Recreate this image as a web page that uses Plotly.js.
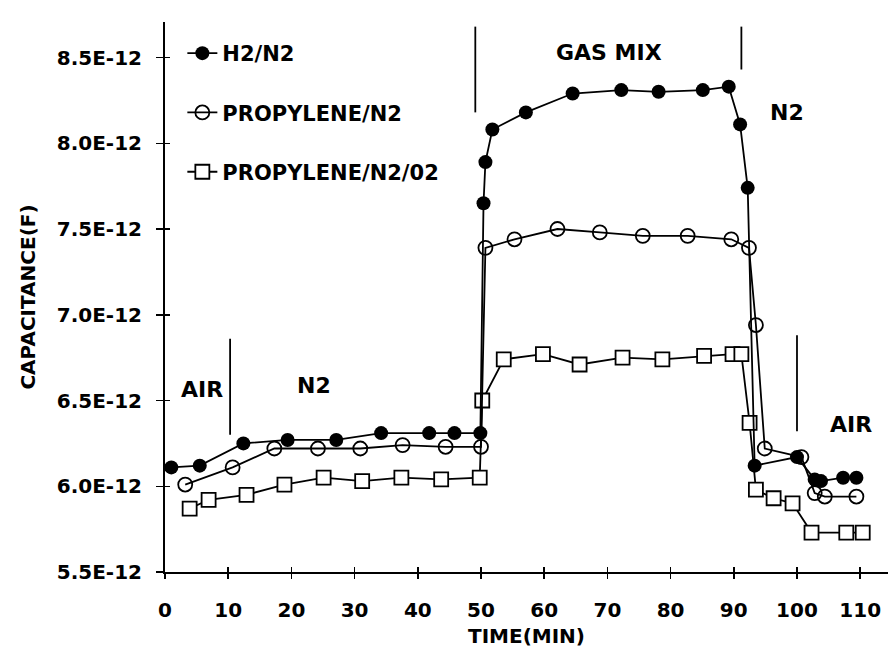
<!DOCTYPE html>
<html>
<head>
<meta charset="utf-8">
<script src="https://cdn.plot.ly/plotly-3.0.1.min.js"></script>
<style>
  html, body { margin: 0; padding: 0; background: #fff; }
  #chart { width: 888px; height: 652px; }
</style>
</head>
<body>
<div id="chart"></div>
<script>
// ---- Data (time in min, capacitance in F) ----
const h2Time = [1.0, 5.5, 12.4, 19.4, 27.1, 34.2, 41.8, 45.8, 49.9, 50.4, 50.7, 51.8, 57.1, 64.5, 72.2, 78.1, 85.1, 89.2, 91.0, 92.2, 93.3, 100.0, 102.8, 103.8, 107.3, 109.4];
const h2Cap  = [6.11e-12, 6.12e-12, 6.25e-12, 6.27e-12, 6.27e-12, 6.31e-12, 6.31e-12, 6.31e-12, 6.31e-12, 7.65e-12, 7.89e-12, 8.08e-12, 8.18e-12, 8.29e-12, 8.31e-12, 8.30e-12, 8.31e-12, 8.33e-12, 8.11e-12, 7.74e-12, 6.12e-12, 6.17e-12, 6.04e-12, 6.03e-12, 6.05e-12, 6.05e-12];

const propTime = [3.2, 10.7, 17.3, 24.2, 30.9, 37.6, 44.4, 50.0, 50.7, 55.3, 62.1, 68.8, 75.6, 82.7, 89.6, 92.4, 93.5, 94.9, 100.7, 102.8, 104.4, 109.4];
const propCap  = [6.01e-12, 6.11e-12, 6.22e-12, 6.22e-12, 6.22e-12, 6.24e-12, 6.23e-12, 6.23e-12, 7.39e-12, 7.44e-12, 7.50e-12, 7.48e-12, 7.46e-12, 7.46e-12, 7.44e-12, 7.39e-12, 6.94e-12, 6.22e-12, 6.17e-12, 5.96e-12, 5.94e-12, 5.94e-12];

const propO2Time = [3.9, 6.9, 12.9, 18.9, 25.1, 31.2, 37.4, 43.7, 49.8, 50.2, 53.6, 59.8, 65.6, 72.4, 78.7, 85.3, 89.8, 91.2, 92.5, 93.5, 96.3, 99.3, 102.3, 107.8, 110.4];
const propO2Cap  = [5.87e-12, 5.92e-12, 5.95e-12, 6.01e-12, 6.05e-12, 6.03e-12, 6.05e-12, 6.04e-12, 6.05e-12, 6.50e-12, 6.74e-12, 6.77e-12, 6.71e-12, 6.75e-12, 6.74e-12, 6.76e-12, 6.77e-12, 6.77e-12, 6.37e-12, 5.98e-12, 5.93e-12, 5.90e-12, 5.73e-12, 5.73e-12, 5.73e-12];

const seriesNames = ["H2/N2", "PROPYLENE/N2", "PROPYLENE/N2/02"];

// ---- Ticks ----
const timeTicks = [0, 10, 20, 30, 40, 50, 60, 70, 80, 90, 100, 110];
const capTicks = [5.5e-12, 6.0e-12, 6.5e-12, 7.0e-12, 7.5e-12, 8.0e-12, 8.5e-12];
const capTickText = ["5.5E-12", "6.0E-12", "6.5E-12", "7.0E-12", "7.5E-12", "8.0E-12", "8.5E-12"];

// ---- Phase labels and dividers ----
const phaseLabels = ["AIR", "N2", "GAS MIX", "N2", "AIR"];
const phaseLabelTime = [5.8, 23.5, 70.2, 98.4, 108.6];
const phaseLabelCap = [6.567e-12, 6.585e-12, 8.532e-12, 8.182e-12, 6.36e-12];
const dividerTime = [10.3, 49.1, 91.2, 100.0];
const dividerLow  = [6.30e-12, 8.18e-12, 8.43e-12, 6.32e-12];
const dividerHigh = [6.86e-12, 8.68e-12, 8.68e-12, 6.88e-12];

const FONT = "DejaVu Sans, Liberation Sans, Arial, sans-serif";

const traces = [
  {
    x: propO2Time, y: propO2Cap, name: seriesNames[2], type: "scatter", mode: "lines+markers",
    line: { color: "#000", width: 1.8 },
    marker: { symbol: "square", size: 14, color: "#fff", line: { color: "#000", width: 1.8 } },
    legendgroup: "c", legendrank: 3
  },
  {
    x: propTime, y: propCap, name: seriesNames[1], type: "scatter", mode: "lines+markers",
    line: { color: "#000", width: 1.8 },
    marker: { symbol: "circle-open", size: 14, color: "#000", line: { color: "#000", width: 1.8 } },
    legendgroup: "b", legendrank: 2
  },
  {
    x: h2Time, y: h2Cap, name: seriesNames[0], type: "scatter", mode: "lines+markers",
    line: { color: "#000", width: 1.8 },
    marker: { symbol: "circle", size: 14, color: "#000" },
    legendgroup: "a", legendrank: 1
  },
  {
    // helper so the overlay axes (inner half of the cross ticks) are drawn
    x: [timeTicks[0]], y: [capTicks[0]], xaxis: "x2", yaxis: "y2",
    mode: "none", type: "scatter", showlegend: false, hoverinfo: "skip"
  }
];

const shapes = dividerTime.map((t, i) => ({
  type: "line", xref: "x", yref: "y",
  x0: t, x1: t, y0: dividerLow[i], y1: dividerHigh[i],
  line: { color: "#000", width: 1.8 }
}));

const annotations = phaseLabels.map((s, i) => ({
  x: phaseLabelTime[i], y: phaseLabelCap[i], xref: "x", yref: "y",
  text: "<b>" + s + "</b>", showarrow: false,
  font: { family: FONT, size: 22, color: "#000" },
  xanchor: "center", yanchor: "middle"
}));

const xRange = [0, 114.4];
const yRange = [5.5e-12, 8.707e-12];

const layout = {
  width: 888, height: 652,
  margin: { l: 165, r: 0, t: 22, b: 80 },
  paper_bgcolor: "#fff", plot_bgcolor: "#fff",
  font: { family: FONT, color: "#000" },
  showlegend: true,
  legend: {
    x: 0.024, y: 0.98, xanchor: "left", yanchor: "top",
    font: { family: FONT, size: 21, color: "#000", weight: "bold" },
    bgcolor: "rgba(0,0,0,0)", borderwidth: 0,
    traceorder: "grouped", tracegroupgap: 29, itemwidth: 30
  },
  xaxis: {
    range: xRange, tickvals: timeTicks, ticktext: timeTicks.map(String),
    showgrid: false, zeroline: false, showline: true, linecolor: "#000", linewidth: 2,
    ticks: "outside", ticklen: 5, tickwidth: 1.5, tickcolor: "#000",
    ticklabelstandoff: 14,
    tickfont: { family: FONT, size: 20, color: "#000", weight: "bold" },
    title: { text: "<b>TIME(MIN)</b>", font: { family: FONT, size: 20, color: "#000" }, standoff: 8 }
  },
  yaxis: {
    range: yRange, tickvals: capTicks, ticktext: capTickText,
    showgrid: false, zeroline: false, showline: true, linecolor: "#000", linewidth: 2,
    ticks: "outside", ticklen: 7, tickwidth: 1.5, tickcolor: "#000",
    ticklabelstandoff: 10,
    tickfont: { family: FONT, size: 20, color: "#000", weight: "bold" },
    title: { text: "<b>CAPACITANCE(F)</b>", font: { family: FONT, size: 20, color: "#000" }, standoff: 16 }
  },
  xaxis2: {
    overlaying: "x", matches: "x", side: "bottom", anchor: "y2",
    tickvals: timeTicks, showticklabels: false, showgrid: false, zeroline: false, showline: false,
    ticks: "inside", ticklen: 5, tickwidth: 1.5, tickcolor: "#000"
  },
  yaxis2: {
    overlaying: "y", matches: "y", side: "left", anchor: "x2",
    tickvals: capTicks, showticklabels: false, showgrid: false, zeroline: false, showline: false,
    ticks: "inside", ticklen: 5, tickwidth: 1.5, tickcolor: "#000"
  },
  shapes: shapes,
  annotations: annotations
};

Plotly.newPlot("chart", traces, layout, { displayModeBar: false, staticPlot: true });
</script>
</body>
</html>
